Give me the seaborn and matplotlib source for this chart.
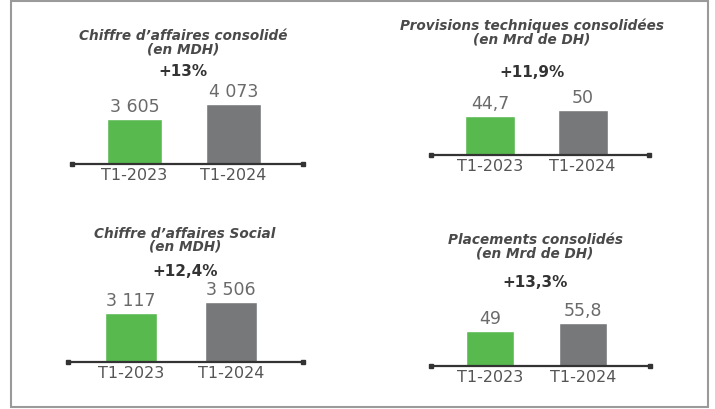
import matplotlib
matplotlib.use("Agg")
import matplotlib.pyplot as plt
import seaborn as sns
import pandas as pd
from matplotlib.patches import Rectangle

sns.set_theme(style="white")
plt.rcParams['font.family'] = ['DejaVu Sans']

periods = ["T1-2023", "T1-2024"]

titles = [
    "Chiffre d\u2019affaires consolidé\n(en MDH)",
    "Provisions techniques consolidées\n(en Mrd de DH)",
    "Chiffre d\u2019affaires Social\n(en MDH)",
    "Placements consolidés\n(en Mrd de DH)",
]
growth = ["+13%", "+11,9%", "+12,4%", "+13,3%"]

ca_consolide = [3605, 4073]
provisions = [44.7, 50]
ca_social = [3117, 3506]
placements = [49, 55.8]

value_labels = [
    ["3 605", "4 073"],
    ["44,7", "50"],
    ["3 117", "3 506"],
    ["49", "55,8"],
]
series = [ca_consolide, provisions, ca_social, placements]

GREEN = "#58b94f"
GRAY = "#77787a"

W, H = 715, 410
fig = plt.figure(figsize=(W / 100, H / 100), dpi=100)

def fx(px):
    return px / W

def fy(py):
    return 1 - py / H

# layout per panel: (axis left px, axis right px, baseline px, bar1 center, bar2 center,
#                    bar width px, px height bar1, px height bar2, title y1, title center x, growth y)
layouts = [
    (72, 303, 165, 134.5, 233.5, 55, 45, 60, 37, 183, 72),
    (431, 649, 156, 490, 582.5, 50, 39, 45, 26, 532, 73),
    (68, 303, 363, 131, 231, 52, 49, 60, 234, 185, 271),
    (431, 650, 367, 490, 583, 48, 35, 43, 241, 535, 283),
]

AX_H = 80  # axes height in px

for vals, labs, title, gr, lay in zip(series, value_labels, titles, growth, layouts):
    x0, x1, base, c1, c2, bw, h1, h2, ty, tx, gy = lay
    ax = fig.add_axes([fx(x0), fy(base), (x1 - x0) / W, AX_H / H])
    df = pd.DataFrame({"period": periods, "value": vals})
    sp = c2 - c1
    sns.barplot(data=df, x="period", y="value", hue="period",
                palette=[GREEN, GRAY], width=bw / sp, ax=ax,
                legend=False, saturation=1)
    # non-zero baseline, as in the original artwork
    s = (vals[1] - vals[0]) / (h2 - h1)
    b = vals[0] - h1 * s
    ax.set_ylim(b, b + AX_H * s)
    ax.set_xlim((x0 - c1) / sp, (x1 - c1) / sp)
    for i, (v, t) in enumerate(zip(vals, labs)):
        ax.annotate(t, (i, v), xytext=(0, 9.5), textcoords="offset points",
                    ha="center", va="center", fontsize=12.5, color="#6a6a6a",
                    annotation_clip=False)
    for sname in ["top", "right", "left"]:
        ax.spines[sname].set_visible(False)
    ax.spines["bottom"].set_color("#333333")
    ax.spines["bottom"].set_linewidth(1.6)
    ax.plot([0, 1], [0, 0], transform=ax.transAxes, ls="none", marker="s",
            markersize=3.5, color="#333333", clip_on=False)
    ax.set_yticks([])
    ax.set_xlabel("")
    ax.set_ylabel("")
    ax.tick_params(axis="x", length=0, pad=2.5, labelsize=11.5, labelcolor="#555555")
    fig.text(fx(tx), fy(ty - 7.5), title, ha="center", va="top", fontsize=9.8,
             fontweight="bold", fontstyle="italic", color="#4a4a4a",
             linespacing=0.95)
    fig.text(fx(tx), fy(gy), gr, ha="center", va="center", fontsize=11,
             fontweight="bold", color="#333333")

fig.patches.append(Rectangle((fx(11), fy(408)), (708 - 11) / W, (408 - 2) / H,
                             transform=fig.transFigure, fill=False,
                             edgecolor="#9a9a9a", linewidth=1.5))

fig.savefig("out.png", dpi=100, facecolor="white")
